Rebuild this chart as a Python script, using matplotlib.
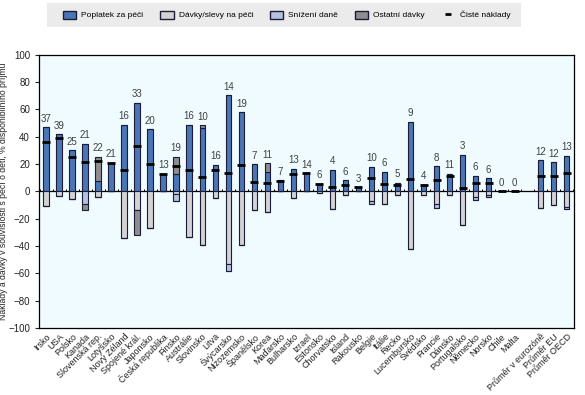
import numpy as np
import matplotlib.pyplot as plt
from matplotlib.patches import Patch, Rectangle
from matplotlib.lines import Line2D

plt.rcParams['font.family'] = ['Liberation Sans', 'DejaVu Sans']

countries = ["Irsko", "USA", "Polsko", "Kanada", "Slovenská rep.", "Lotyšsko",
             "Nový Zéland", "Spojené král.", "Japonsko", "Česká republika",
             "Finsko", "Austrálie", "Slovinsko", "Litva", "Švýcarsko",
             "Nizozemsko", "Španělsko", "Korea", "Maďarsko", "Bulharsko",
             "Izrael", "Estonsko", "Chorvatsko", "Island", "Rakousko", "Belgie",
             "Itálie", "Řecko", "Lucembursko", "Švédsko", "Francie", "Dánsko",
             "Portugalsko", "Německo", "Norsko", "Chile", "Malta",
             "Průměr v eurozóně", "Průměr EU", "Průměr OECD"]

# Poplatek za péči (fees)
poplatek = [47, 42, 30, 35, 7.5, 21, 49, 65, 45.5, 13, 13, 49, 46.5, 19.5, 70.5,
            58, 20, 14.5, 8, 16.5, 13.5, 5.5, 16, 8, 3, 18, 14.5, 6.5, 51, 5,
            18.5, 13, 27, 11.5, 9.5, 0, 0, 23, 21.5, 26]
# Dávky/slevy na péči
davky = [-11, -3.5, -5.5, 0, -4, 0, -34, -14, -26.5, 0, -2, -33.5, -39, -4.5,
         -53, -39.5, -14, -15, 0, -4.5, 0, -1, -13, -3, 0, -7, -9.5, -2.5,
         -42.5, -2.5, -9, -3, -25, -4, -3, 0, 0, -12.5, -10, -11.5]
# Snížení daně
snizeni = [0, 0, 0, -9, 0, 0, 0, 0, 0, 0, -5, 0, 0, 0, -5, 0, 0, 0, 0, 0, 0, 0,
           0, 0, 0, -2, 0, 0, 0, 0, -3, 0, 0, -2, -1, 0, 0, 0, 0, -1.5]
# Ostatní dávky
ostatni = [0, 0, 0, -5, 18, 0, 0, -18, 0, 0, 12.5, 0, 2, 0, 0, 0, 0, 6, 0, 0,
           0, 0, 0, 0, 0, 0, 0, 0, 0, 0, 0, 0, 0, 0, 0, 0, 0, 0, 0, 0]
# Čisté náklady
ciste = [36.5, 39, 25, 21.5, 22, 21, 15.5, 33, 20, 13, 18.5, 15.5, 10.5, 16,
         13.5, 19, 7, 6, 7.5, 12.5, 13.5, 5.5, 3.5, 5, 3, 9.5, 5.5, 5, 9, 4.5,
         8, 11, 2.5, 6, 6, 0, 0, 11, 11.5, 13.5]
popisky = [37, 39, 25, 21, 22, 21, 16, 33, 20, 13, 19, 16, 10, 16, 14, 19, 7,
           11, 7, 13, 14, 6, 4, 6, 3, 10, 6, 5, 9, 4, 8, 11, 3, 6, 6, 0, 0,
           12, 12, 13]

c_pop = '#4a76b6'
c_dav = '#d3d3d3'
c_sniz = '#b4c2e2'
c_ost = '#8e8e8e'
edge = '#1c1c38'

idx = np.arange(len(countries))
x = idx + (idx >= 37)  # gap before averages

pop = np.array(poplatek, float)
dav = np.array(davky, float)
sniz = np.array(snizeni, float)
ost = np.array(ostatni, float)
ost_pos = np.where(ost > 0, ost, 0)
ost_neg = np.where(ost < 0, ost, 0)

fig = plt.figure(figsize=(5.85, 3.95), dpi=100)
ax = fig.add_axes([0.0667, 0.170, 0.914, 0.691])
ax.set_facecolor('#effbfe')

w = 0.42
kw = dict(width=w, edgecolor=edge, linewidth=0.8, zorder=3)
ax.bar(x, pop, color=c_pop, **kw)
ax.bar(x, ost_pos, bottom=pop, color=c_ost, **kw)
ax.bar(x, dav, color=c_dav, **kw)
ax.bar(x, sniz, bottom=dav, color=c_sniz, **kw)
ax.bar(x, ost_neg, bottom=dav + sniz, color=c_ost, **kw)
ax.plot(x, ciste, ls='none', marker='_', ms=5.5, mew=2, color='black', zorder=4)

top = pop + ost_pos
for xi, t, lab in zip(x, top, popisky):
    ax.text(xi, t + 2.5, str(lab), ha='center', va='bottom', fontsize=7,
            color='#404040')

ax.axhline(0, color='black', lw=0.9, zorder=2)
bounds = np.arange(-0.5, x[-1] + 1)
ax.vlines(bounds, 0, 1.8, color='black', lw=0.7, zorder=2)

ax.set_xlim(-0.54, x[-1] + 0.54)
ax.set_ylim(-100, 100)
ax.set_yticks(np.arange(-100, 101, 20))
ax.tick_params(axis='y', labelsize=7, length=3, colors='#222222')
ax.set_xticks(x)
ax.set_xticklabels(countries, rotation=45, ha='right', rotation_mode='anchor',
                   fontsize=6.5, color='#222222')
ax.tick_params(axis='x', length=0, pad=3)
for s in ax.spines.values():
    s.set_color('black')
    s.set_linewidth(0.9)
ax.set_ylabel("Náklady a dávky v souvislosti s péčí o děti, % disponibilního příjmu",
              fontsize=6.2, labelpad=3, color='#222222')
ax.yaxis.set_label_coords(-0.058, 0.5)

# legend background band
fig.patches.append(Rectangle((0.08, 0.932), 0.811, 0.061, transform=fig.transFigure,
                             facecolor='#ebebeb', edgecolor='none', zorder=0))
handles = [Patch(facecolor=c_pop, edgecolor=edge, label='Poplatek za péči'),
           Patch(facecolor=c_dav, edgecolor=edge, label='Dávky/slevy na péči'),
           Patch(facecolor=c_sniz, edgecolor=edge, label='Snížení daně'),
           Patch(facecolor=c_ost, edgecolor=edge, label='Ostatní dávky'),
           Line2D([], [], ls='none', marker='_', ms=4, mew=2, color='black',
                  label='Čisté náklady')]
fig.legend(handles=handles, loc='center', ncol=5,
           bbox_to_anchor=(0.49, 0.962), fontsize=6.0, frameon=False,
           handlelength=1.6, handleheight=1.1, handletextpad=0.6,
           columnspacing=2.0)

fig.savefig('out.png', dpi=100)
